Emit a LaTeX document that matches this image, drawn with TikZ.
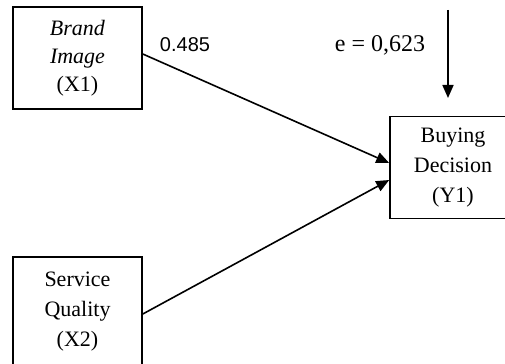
\documentclass[tikz,border=0pt]{standalone}
\usepackage{fontspec}
\setmainfont{Liberation Serif}
\newfontfamily\numfont{Liberation Sans}
\usetikzlibrary{arrows.meta}
\tikzstyle{var} = [rectangle, minimum width=64.5pt, minimum height=51pt, align=center, draw=black, line width=0.8pt, font=\fontsize{11}{14}\selectfont]
\tikzstyle{arrow} = [line width=0.8pt,->,>={Triangle[length=6.5pt,width=5.5pt]}]

\begin{document}
\begin{tikzpicture}[x=0.5pt,y=-0.5pt]
		\useasboundingbox (0,0) rectangle (505,364);
		\node (brand) [var] at (77.5,58) {\textit{Brand}\\\textit{Image}\\(X1)};
		\node (service) [var, minimum height=55pt, font=\fontsize{11}{15}\selectfont] at (77.5,312) {Service\\Quality\\(X2)};
		\node (buying) [var, minimum width=63pt, font=\fontsize{11}{15}\selectfont] at (453,167.5) {Buying\\Decision\\(Y1)};
		\node (coef) [font=\numfont\fontsize{10}{12}\selectfont] at (185,45) {0.485};
		\node (err) [font=\fontsize{12}{14}\selectfont] at (380,45) {e = 0,623};
		\coordinate (etop) at (448,10);
		\coordinate (ebot) at (448,98);
		
		\draw [arrow] ([yshift=2pt]brand.east) -- ([yshift=2.25pt]buying.west);
		\draw [arrow] ([yshift=-1pt]service.east) -- ([yshift=-6.25pt]buying.west);
		\draw [arrow] (etop) -- (ebot);
		\end{tikzpicture}
\end{document}
